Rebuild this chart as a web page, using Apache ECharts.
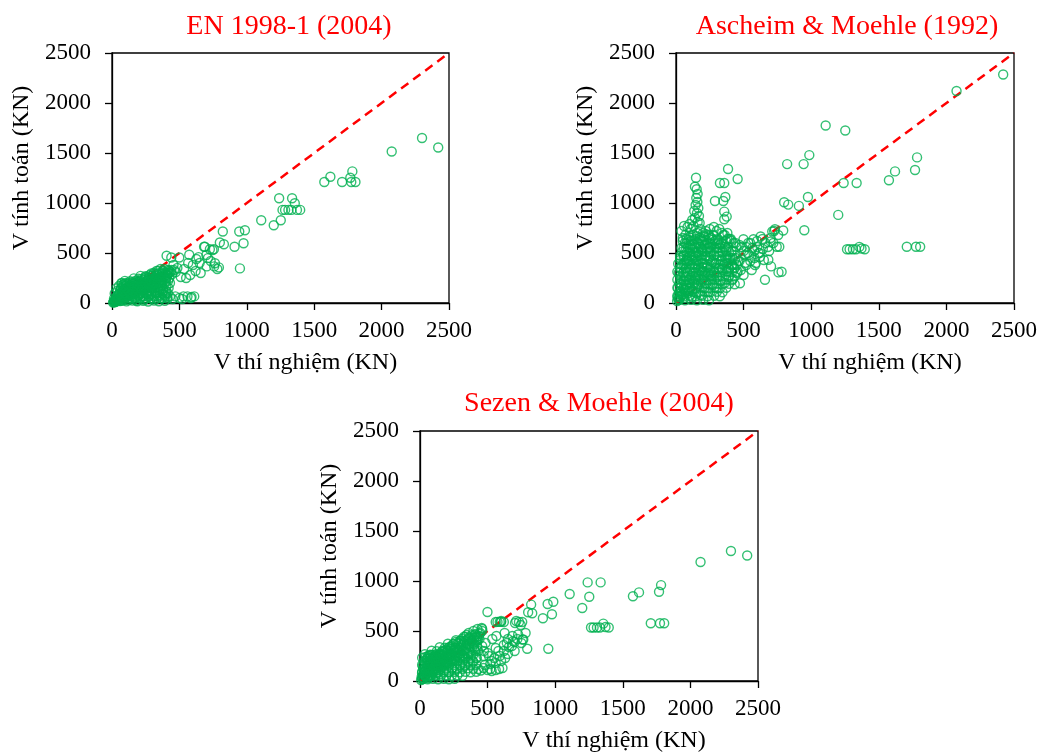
<!DOCTYPE html>
<html>
<head>
<meta charset="utf-8">
<script src="https://cdn.jsdelivr.net/npm/echarts@6/dist/echarts.min.js"></script>
<style>html,body{margin:0;padding:0;background:#fff}#c{width:1040px;height:754px}</style>
</head>
<body>
<div id="c"></div>
<script>
// ---- Titles & axis texts ----
const titles = ['EN 1998-1 (2004)', 'Ascheim & Moehle (1992)', 'Sezen & Moehle (2004)'];
const xName = 'V thí nghiệm (KN)';
const yName = 'V tính toán (KN)';
const axisTicks = [0, 500, 1000, 1500, 2000, 2500];

// ---- Shared experimental values (V thí nghiệm) ----
const vTest = [
  2300, 2420, 2075, 1575, 1620, 1707, 1768, 1775, 1783, 1806,
  1107, 1200, 1240, 1252, 1265, 1284, 1309, 1331, 1336, 1356, 1372, 1396,
  758, 793, 800, 822, 830, 909, 944, 949, 976, 986,
  405, 420, 430, 440, 450, 456, 470, 473, 485, 499,
  500, 510, 520, 530, 535, 550, 560, 565, 573, 580,
  585, 590, 600, 610, 620, 626, 642, 650, 658, 683,
  689, 700, 703, 712, 726, 732, 745, 756, 764, 781,
  8, 12, 15, 18, 20, 22, 25, 28, 30, 32,
  35, 38, 40, 42, 45, 48, 50, 52, 55, 58,
  60, 62, 65, 68, 70, 72, 75, 78, 80, 82,
  85, 88, 90, 92, 95, 98, 100, 102, 105, 108,
  110, 112, 115, 118, 120, 122, 125, 128, 130, 135,
  138, 140, 145, 148, 150, 152, 155, 158, 160, 165,
  168, 170, 175, 178, 180, 185, 188, 190, 195, 198,
  200, 205, 208, 210, 215, 218, 220, 225, 228, 230,
  235, 240, 245, 248, 250, 255, 260, 265, 270, 275,
  280, 285, 290, 295, 300, 305, 310, 315, 320, 325,
  330, 335, 340, 345, 350, 355, 360, 365, 370, 380,
  385, 390, 395, 400, 410, 415, 425, 435, 445, 460
];

// ---- Calculated values (V tính toán) per model ----
const vEN = [
  1650, 1555, 1515, 1210, 1263, 1210, 1253, 1210, 1316, 1210,
  828, 778, 1047, 828, 931, 931, 931, 931, 1047, 997, 931, 931,
  366, 356, 605, 715, 588, 562, 715, 346, 598, 728,
  472, 300, 66, 455, 40, 380, 66, 310, 350, 455,
  50, 260, 40, 66, 340, 250, 66, 400, 482, 280,
  50, 60, 380, 66, 320, 440, 459, 400, 300, 563,
  562, 480, 366, 449, 538, 420, 530, 538, 397, 340,
  5, 10, 20, 8, 15, 30, 12, 25, 40, 18,
  30, 20, 60, 35, 25, 80, 45, 30, 100, 50,
  120, 40, 70, 150, 200, 55, 90, 180, 60, 130,
  100, 190, 65, 140, 110, 170, 80, 200, 120, 60,
  150, 90, 185, 130, 75, 160, 110, 200, 140, 95,
  180, 120, 160, 90, 210, 140, 190, 110, 170, 130,
  200, 100, 150, 180, 120, 210, 160, 90, 190, 140,
  220, 130, 180, 100, 200, 160, 240, 120, 190, 150,
  230, 130, 200, 170, 260, 110, 220, 180, 250, 150,
  280, 200, 240, 160, 270, 220, 300, 180, 250, 210,
  320, 240, 280, 200, 300, 260, 340, 230, 290, 320,
  260, 340, 300, 220, 280, 330, 250, 310, 290, 330
];
const vAM = [
  null, 2285, 2120, 1227, 1316, 562, 1330, 562, 1456, 562,
  1775, 881, 1200, 1725, 538, 538, 538, 538, 1200, 561, 545, 538,
  306, 725, 1007, 1389, 984, 971, 1389, 728, 1060, 1479,
  640, 520, 350, 450, 300, 1240, 420, 197, 560, 638,
  280, 480, 380, 500, 600, 420, 330, 550, 638, 450,
  380, 400, 620, 500, 460, 665, 540, 430, 233, 432,
  520, 615, 366, 715, 720, 738, 562, 680, 562, 313,
  20, 60, 150, 40, 300, 90, 200, 120, 450, 60,
  250, 100, 550, 180, 380, 80, 620, 300, 150, 480,
  220, 400, 600, 130, 520, 350, 260, 640, 180, 450,
  300, 560, 100, 420, 230, 660, 500, 340, 150, 580,
  620, 250, 470, 380, 130, 540, 680, 300, 450, 200,
  560, 350, 640, 240, 500, 420, 700, 170, 600, 380,
  480, 280, 650, 330, 560, 210, 440, 620, 360, 520,
  400, 660, 250, 580, 300, 470, 690, 200, 540, 360,
  600, 290, 450, 640, 330, 520, 240, 580, 410, 680,
  480, 300, 620, 400, 550, 260, 640, 350, 470, 580,
  420, 600, 330, 520, 680, 380, 560, 450, 620, 400,
  560, 340, 640, 450, 520, 380, 600, 480, 560, 420
];
const vSM = [
  1300, 1255, 1190, 847, 886, 578, 893, 578, 959, 578,
  870, 730, 986, 843, 535, 535, 535, 535, 986, 574, 540, 535,
  415, 322, 687, 764, 677, 627, 770, 322, 667, 793,
  460, 350, 120, 420, 105, 530, 130, 300, 380, 690,
  110, 250, 120, 100, 420, 230, 110, 450, 591, 300,
  120, 591, 591, 130, 360, 480, 380, 420, 340, 450,
  400, 390, 580, 600, 465, 590, 560, 590, 415, 480,
  10, 40, 80, 20, 150, 60, 120, 30, 200, 90,
  50, 180, 100, 240, 70, 130, 220, 40, 160, 250,
  110, 200, 60, 250, 150, 90, 230, 180, 50, 260,
  140, 220, 80, 260, 180, 120, 240, 200, 160, 100,
  230, 150, 260, 190, 130, 250, 210, 170, 240, 110,
  200, 260, 150, 230, 270, 180, 250, 140, 290, 210,
  260, 170, 300, 230, 200, 280, 160, 310, 240, 190,
  300, 220, 330, 180, 270, 340, 240, 200, 320, 260,
  350, 230, 300, 370, 210, 330, 280, 390, 250, 310,
  380, 260, 330, 400, 280, 360, 420, 300, 380, 250,
  400, 440, 320, 460, 370, 420, 480, 350, 430, 400,
  460, 380, 500, 430, 470, 400, 520, 450, 480, 500
];

// ---- Further points ([V thí nghiệm, V tính toán]) ----
const extraEN = [
  [120,30],[150,45],[180,25],[210,50],[240,35],[270,60],[300,40],[330,70],[360,50],[390,80],
  [410,60],[140,70],[200,80],[260,90],[320,100],[380,120],[420,150],[170,60],[230,70],[290,85],
  [350,110],[400,100],[60,20],[90,30],[250,140],[310,150],[370,180],[430,200],[280,120],[340,160],
  [400,250],[420,300],[440,330],[360,200],[300,190],
  [30,18],[72,22],[108,16],[152,24],[188,18],[232,22],[268,15],[312,24],[348,18],[392,22],
  [15,44],[52,48],[88,42],[132,47],[172,43],[208,48],[252,44],[288,46],[332,42],[372,47],[412,44],
  [36,72],[74,68],[116,73],[154,67],[196,72],[236,68],[274,73],[316,67],[354,72],[396,68],
  [20,96],[56,92],[94,97],[136,93],[176,96],[214,92],[256,97],[294,93],[336,96],[376,92],[414,97],
  [42,122],[80,118],[122,123],[158,117],[202,122],[238,118],[282,123],[318,117],[362,122],[402,118],
  [32,146],[66,142],[102,147],[138,143],[182,146],[218,142],[262,147],[298,143],[342,146],[378,142],
  [52,171],[86,167],[126,172],[164,168],[206,171],[244,167],[286,172],[326,168],[366,171],[404,167],
  [72,196],[108,192],[152,197],[188,193],[232,196],[268,192],[312,197],[348,193],[392,196],
  [96,221],[134,218],[176,222],[214,218],[256,221],[294,217],[336,222],[374,218],[416,221],
  [162,246],[198,243],[242,247],[278,243],[322,246],[358,243],[402,247],
  [212,271],[248,268],[292,272],[328,268],[372,271],[408,268],
  [292,296],[328,293],[372,297],[408,293],[342,321],[378,318],[422,322]
];
const extraAM = [
  [148,1253],[140,1163],[153,1137],[160,1090],[150,1050],[158,1010],[145,980],[165,950],[135,920],[155,900],
  [170,870],[140,850],[120,830],[160,810],[100,790],[130,770],[175,800],[110,740],[85,760],[60,770],
  [40,720],[70,680],[50,650],
  [288,1020],[350,1020],[365,1060],[357,914],[375,864],[357,838],[385,1340],[325,1200],[357,1200],
  [280,760],[320,740],[300,720],[340,700],[360,680],[380,700],[250,740],[220,720],[200,700],[180,740],
  [240,680],[260,650],[380,640],[410,620],[440,600],[470,580],[520,560],[550,600],[500,520],[540,480],
  [580,520],[600,560],[620,500],[660,600],[680,560],[720,600],[700,650],[640,640],
  [20,30],[40,80],[60,50],[90,120],[120,60],[150,100],[180,80],[210,150],[240,110],[270,180],
  [300,150],[330,220],[360,200],[390,260],[420,240],[100,200],[140,250],[200,320],[260,280],[320,340],
  [380,320],[30,350],[80,420],[130,480],[190,540],[250,560],[310,600],[370,520],[420,450],[450,380],
  [480,330],[510,400],
  [22,32],[66,28],[112,33],[154,28],[202,32],[244,27],
  [10,72],[56,68],[102,73],[144,67],[192,72],[234,68],[282,73],[324,67],
  [32,112],[74,108],[122,113],[164,107],[212,112],[254,108],[302,113],[344,107],
  [10,152],[56,148],[102,153],[144,147],[192,152],[234,148],[282,153],[324,147],[372,152],
  [32,192],[74,188],[122,193],[164,187],[212,192],[254,188],[302,193],[344,187],[392,192],[434,188],
  [10,232],[56,228],[102,233],[144,227],[192,232],[234,228],[282,233],[324,227],[372,232],[414,228],
  [32,272],[74,268],[122,273],[164,267],[212,272],[254,268],[302,273],[344,267],[392,272],[434,268],
  [10,312],[56,308],[102,313],[144,307],[192,312],[234,308],[282,313],[324,307],[372,312],[414,308],[456,312],
  [32,352],[74,348],[122,353],[164,347],[212,352],[254,348],[302,353],[344,347],[392,352],[434,348],
  [16,392],[56,388],[102,393],[144,387],[192,392],[234,388],[282,393],[324,387],[372,392],[414,388],
  [32,432],[74,428],[122,433],[164,427],[212,432],[254,428],[302,433],[344,427],[392,432],[434,428],
  [30,472],[56,468],[102,473],[144,467],[192,472],[234,468],[282,473],[324,467],[372,472],
  [46,512],[80,508],[122,513],[164,507],[212,512],[254,508],[302,513],[344,507],[392,512],
  [56,552],[102,548],[144,553],[192,547],[234,552],[282,548],[324,553],[372,547],
  [76,592],[122,588],[164,593],[212,587],[254,592],[302,588],[344,593],
  [92,632],[134,628],[182,633],[224,627],[272,632],[316,628],
  [112,672],[154,668],[202,673],[244,667]
];
const extraSM = [
  [20,20],[40,50],[60,30],[90,60],[120,80],[150,70],[180,110],[210,90],[240,130],[270,120],
  [300,160],[330,150],[360,190],[390,200],[420,230],[100,120],[140,140],[200,170],[260,200],[320,220],
  [380,260],[430,300],[460,350],[400,330],[350,280],[290,240],[230,210],[170,200],[110,190],[50,180],
  [30,120],[470,250],[500,280],[530,200],[560,330],[590,250],[620,300],[650,270],[680,350],[700,300],
  [720,420],[750,380],[480,160],[520,170],[560,180],[600,200],[630,230],[440,470],[460,520],[420,440],
  [560,590],[600,600],[620,590],
  [16,22],[56,18],[96,23],[134,17],[176,22],[214,18],[256,23],
  [36,57],[74,53],[116,58],[154,52],[196,57],[234,53],[276,58],[314,52],
  [16,92],[56,88],[96,93],[134,87],[176,92],[214,88],[256,93],[294,87],[336,92],[374,88],[416,93],
  [36,127],[74,123],[116,128],[154,122],[196,127],[234,123],[276,128],[314,122],[356,127],[394,123],
  [16,162],[56,158],[96,163],[134,157],[176,162],[214,158],[256,163],[294,157],[336,162],[374,158],[416,163],
  [36,197],[74,193],[116,198],[154,192],[196,197],[234,193],[276,198],[314,192],[356,197],[394,193],
  [16,232],[56,228],[96,233],[134,227],[176,232],[214,228],[256,233],[294,227],[336,232],[374,228],[416,233],
  [36,267],[74,263],[116,268],[154,262],[196,267],[234,263],[276,268],[314,262],[356,267],[394,263],
  [86,302],[124,298],[166,303],[204,297],[246,302],[284,298],[326,303],[364,297],[406,302],
  [146,337],[184,333],[226,338],[264,332],[306,337],[344,333],[386,338],[424,332],
  [206,372],[244,368],[286,373],[324,367],[366,372],[404,368],
  [266,407],[304,403],[346,408],[384,402],[426,407],
  [326,442],[364,438],[406,443]
];
const diagonal = [[0, 0], [2500, 2500]];

// ---- Build ----
function pairs(ys, extra) {
  const out = [];
  vTest.forEach((x, i) => { if (ys[i] != null) out.push([x, ys[i]]); });
  return out.concat(extra);
}
const panelData = [pairs(vEN, extraEN), pairs(vAM, extraAM), pairs(vSM, extraSM)];

const FONT = '"Liberation Serif", "Times New Roman", serif';
const grids = [
  { left: 112, top: 53, width: 337, height: 250 },
  { left: 676, top: 53, width: 338, height: 250 },
  { left: 420, top: 431, width: 338, height: 251 }
];
const titlePos = [{ x: 284, y: 8 }, { x: 842, y: 8 }, { x: 594, y: 385 }];

const option = {
  backgroundColor: '#fff',
  animation: false,
  title: titles.map((t, i) => ({
    text: t, left: titlePos[i].x, top: titlePos[i].y, textAlign: 'center',
    textStyle: { fontFamily: FONT, fontSize: 28, fontWeight: 'normal', color: '#ff0000' }
  })),
  grid: grids.map(g => Object.assign({ show: true, borderColor: '#000', borderWidth: 1.3, backgroundColor: 'transparent' }, g)),
  xAxis: grids.map((g, i) => ({
    gridIndex: i, type: 'value', min: axisTicks[0], max: axisTicks[axisTicks.length - 1], interval: axisTicks[1] - axisTicks[0],
    name: xName, nameLocation: 'middle', nameGap: 48,
    nameTextStyle: { fontFamily: FONT, fontSize: 24, color: '#000', padding: [0, 0, 0, 50] },
    axisLine: { show: true, lineStyle: { color: '#000', width: 1.3 } },
    axisTick: { show: true, inside: false, length: 7, lineStyle: { color: '#000', width: 1.3 } },
    axisLabel: { fontFamily: FONT, fontSize: 23, color: '#000', margin: 16, formatter: v => String(v) },
    splitLine: { show: false }
  })),
  yAxis: grids.map((g, i) => ({
    gridIndex: i, type: 'value', min: axisTicks[0], max: axisTicks[axisTicks.length - 1], interval: axisTicks[1] - axisTicks[0],
    name: yName, nameLocation: 'middle', nameGap: 78,
    nameTextStyle: { fontFamily: FONT, fontSize: 24, color: '#000', padding: [0, 0, 0, 20] },
    axisLine: { show: true, lineStyle: { color: '#000', width: 1.3 } },
    axisTick: { show: true, inside: false, length: 7, lineStyle: { color: '#000', width: 1.3 } },
    axisLabel: { fontFamily: FONT, fontSize: 23, color: '#000', margin: 21, formatter: v => String(v) },
    splitLine: { show: false }
  })),
  series: []
};
panelData.forEach((d, i) => {
  option.series.push({
    type: 'line', xAxisIndex: i, yAxisIndex: i, data: diagonal, symbol: 'none', silent: true,
    lineStyle: { color: '#ff0000', width: 2.5, type: [9, 6] }, z: 1
  });
  option.series.push({
    type: 'scatter', xAxisIndex: i, yAxisIndex: i, data: d, symbol: 'circle', symbolSize: 9,
    itemStyle: { color: 'rgba(255,255,255,0)', borderColor: '#00b050', borderWidth: 1.4 }, z: 2
  });
});

const chart = echarts.init(document.getElementById('c'), null, { renderer: 'canvas' });
chart.setOption(option);
</script>
</body>
</html>
